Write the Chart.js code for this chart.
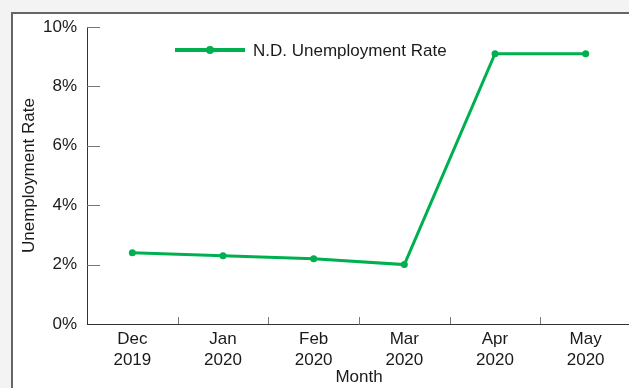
<!DOCTYPE html>
<html>
<head>
<meta charset="utf-8">
<script src="https://cdn.jsdelivr.net/npm/chart.js@4"></script>
<style>
  html, body { margin: 0; padding: 0; width: 629px; height: 388px; overflow: hidden; background: #f3f3f3; }
  #box { position: absolute; left: 11px; top: 12px; width: 700px; height: 500px; background: #fff; border: 2px solid #666; }
  #c { position: absolute; left: 0; top: 0; }
</style>
</head>
<body>
<div id="box"></div>
<canvas id="c" width="660" height="388" style="width:660px;height:388px"></canvas>
<script>
const months = [['Dec', '2019'], ['Jan', '2020'], ['Feb', '2020'], ['Mar', '2020'], ['Apr', '2020'], ['May', '2020']];
const rates = [2.4, 2.3, 2.2, 2.0, 9.1, 9.1];
const seriesName = 'N.D. Unemployment Rate';
const yTickValues = [0, 2, 4, 6, 8, 10];

const GREEN = '#00b050';
const FONT = "'Liberation Sans', Arial, sans-serif";

const tickPlugin = {
  id: 'innerTicks',
  afterDraw(chart) {
    const ctx = chart.ctx;
    const x = chart.scales.x, y = chart.scales.y;
    const ca = chart.chartArea;
    ctx.save();
    ctx.strokeStyle = '#777';
    ctx.lineWidth = 1;
    y.ticks.forEach(t => {
      if (t.value === 0) return;
      const py = Math.round(y.getPixelForValue(t.value)) + 0.5;
      ctx.beginPath();
      ctx.moveTo(ca.left, py);
      ctx.lineTo(ca.left + 13, py);
      ctx.stroke();
    });
    for (let i = 1; i < months.length; i++) {
      const px = Math.round((x.getPixelForValue(i - 1) + x.getPixelForValue(i)) / 2) + 0.5;
      ctx.beginPath();
      ctx.moveTo(px, ca.bottom);
      ctx.lineTo(px, ca.bottom - 7);
      ctx.stroke();
    }
    ctx.restore();
  }
};

const legendPlugin = {
  id: 'customLegend',
  afterDraw(chart) {
    const ctx = chart.ctx;
    const ds = chart.data.datasets[0];
    const lx0 = 175, lx1 = 245, ly = 50;
    ctx.save();
    ctx.strokeStyle = ds.borderColor;
    ctx.lineWidth = 4;
    ctx.beginPath();
    ctx.moveTo(lx0, ly);
    ctx.lineTo(lx1, ly);
    ctx.stroke();
    ctx.fillStyle = ds.borderColor;
    ctx.beginPath();
    ctx.arc((lx0 + lx1) / 2, ly, 4, 0, Math.PI * 2);
    ctx.fill();
    ctx.fillStyle = '#1a1a1a';
    ctx.font = '17px ' + FONT;
    ctx.textBaseline = 'middle';
    ctx.textAlign = 'left';
    ctx.fillText(ds.label, 253, ly + 1);
    ctx.restore();
  }
};

new Chart(document.getElementById('c'), {
  type: 'line',
  data: {
    labels: months,
    datasets: [{
      label: seriesName,
      data: rates,
      borderColor: GREEN,
      backgroundColor: GREEN,
      borderWidth: 3,
      pointRadius: 3.5,
      pointHoverRadius: 3.5,
      pointBackgroundColor: GREEN,
      pointBorderWidth: 0,
      tension: 0
    }]
  },
  options: {
    responsive: false,
    animation: false,
    devicePixelRatio: 1,
    layout: { padding: { top: 27, right: 29, bottom: 0, left: 0 } },
    plugins: { legend: { display: false }, tooltip: { enabled: false } },
    scales: {
      x: {
        type: 'category',
        offset: true,
        grid: { display: true, drawOnChartArea: false, drawTicks: false, color: 'rgba(0,0,0,0)' },
        border: { display: true, color: '#333', width: 1 },
        ticks: { color: '#1a1a1a', font: { family: FONT, size: 17, lineHeight: 1.23 }, padding: 5, maxRotation: 0, autoSkip: false },
        title: { display: true, text: 'Month', color: '#1a1a1a', font: { family: FONT, size: 17 }, padding: { top: 0, bottom: 0 } },
        afterFit(s) { s.height = 64; }
      },
      y: {
        min: 0,
        max: 10,
        afterBuildTicks(s) { s.ticks = yTickValues.map(v => ({ value: v })); },
        grid: { display: true, drawOnChartArea: false, drawTicks: false, color: 'rgba(0,0,0,0)' },
        border: { display: true, color: '#333', width: 1 },
        ticks: { color: '#1a1a1a', font: { family: FONT, size: 17 }, padding: 10, callback: v => v + '%' },
        title: { display: true, text: 'Unemployment Rate', color: '#1a1a1a', font: { family: FONT, size: 17 }, padding: { top: 19, bottom: 0 } },
        afterFit(s) { s.width = 87; }
      }
    }
  },
  plugins: [tickPlugin, legendPlugin]
});
</script>
</body>
</html>
